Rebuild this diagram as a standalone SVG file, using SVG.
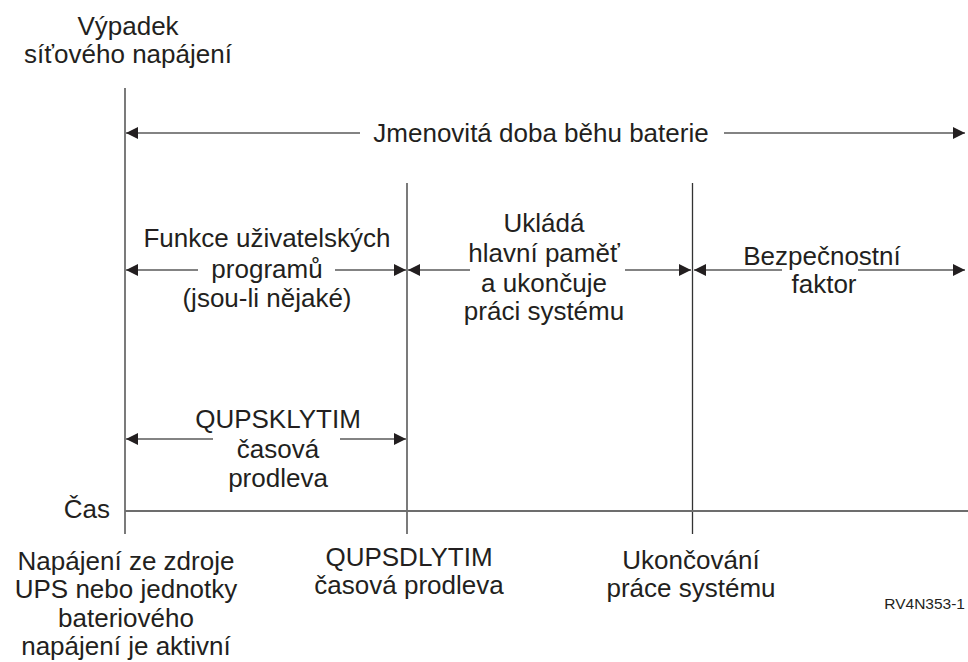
<svg xmlns="http://www.w3.org/2000/svg" width="968" height="662" viewBox="0 0 968 662">
<style>
text{font-family:"Liberation Sans",Arial,sans-serif;font-size:26px;fill:#231f20;text-anchor:middle}
.vl{stroke:#333;stroke-width:1.3;fill:none}
.ax{stroke:#6d6d6d;stroke-width:1.8;fill:none}
.ar{stroke:#5a5a5a;stroke-width:1.6;fill:none}
.s{marker-start:url(#ah)}
.e{marker-end:url(#ah)}
</style>
<defs>
<marker id="ah" viewBox="0 0 12 12" refX="12" refY="6" markerWidth="12" markerHeight="12" markerUnits="userSpaceOnUse" orient="auto-start-reverse">
<path d="M0,0 L12,6 L0,12 z" fill="#231f20"/>
</marker>
</defs>
<rect width="968" height="662" fill="#fff"/>
<g id="connectors">
<line class="vl" x1="125" y1="88" x2="125" y2="534"/>
<line class="vl" x1="407" y1="183" x2="407" y2="534"/>
<line class="vl" x1="692.5" y1="183" x2="692.5" y2="534"/>
<line class="ax" x1="125" y1="511" x2="968" y2="511"/>
<line class="ar s" x1="126" y1="133" x2="360" y2="133"/>
<line class="ar e" x1="724" y1="133" x2="965" y2="133"/>
<line class="ar s" x1="126" y1="270" x2="198" y2="270"/>
<line class="ar e" x1="335" y1="270" x2="406" y2="270"/>
<line class="ar s" x1="408" y1="270" x2="470" y2="270"/>
<line class="ar e" x1="625" y1="270" x2="691" y2="270"/>
<line class="ar s" x1="694" y1="270" x2="782" y2="270"/>
<line class="ar e" x1="858" y1="270" x2="965" y2="270"/>
<line class="ar s" x1="126" y1="439" x2="213" y2="439"/>
<line class="ar e" x1="340" y1="439" x2="406" y2="439"/>
</g>
<g id="vypadek">
<text x="128" y="35">Výpadek</text>
<text x="128" y="63">síťového napájení</text>
</g>
<g id="jmenovita">
<text x="541" y="142">Jmenovitá doba běhu baterie</text>
</g>
<g id="funkce">
<text x="267" y="247">Funkce uživatelských</text>
<text x="267" y="278">programů</text>
<text x="267" y="307">(jsou-li nějaké)</text>
</g>
<g id="uklada">
<text x="544" y="232">Ukládá</text>
<text x="544" y="262">hlavní paměť</text>
<text x="544" y="292">a ukončuje</text>
<text x="544" y="320">práci systému</text>
</g>
<g id="bezpecnostni">
<text x="822" y="265">Bezpečnostní</text>
<text x="824" y="293">faktor</text>
</g>
<g id="qupsklytim">
<text x="278" y="428">QUPSKLYTIM</text>
<text x="278" y="458">časová</text>
<text x="278" y="487">prodleva</text>
</g>
<g id="cas">
<text x="110" y="518" style="text-anchor:end">Čas</text>
</g>
<g id="napajeni">
<text x="126" y="570">Napájení ze zdroje</text>
<text x="126" y="598">UPS nebo jednotky</text>
<text x="126" y="627">bateriového</text>
<text x="126" y="655">napájení je aktivní</text>
</g>
<g id="qupsdlytim">
<text x="409" y="566">QUPSDLYTIM</text>
<text x="409" y="594">časová prodleva</text>
</g>
<g id="ukoncovani">
<text x="691" y="569">Ukončování</text>
<text x="691" y="597">práce systému</text>
</g>
<g id="ref">
<text x="965" y="609" style="text-anchor:end;font-size:15.5px">RV4N353-1</text>
</g>
</svg>
